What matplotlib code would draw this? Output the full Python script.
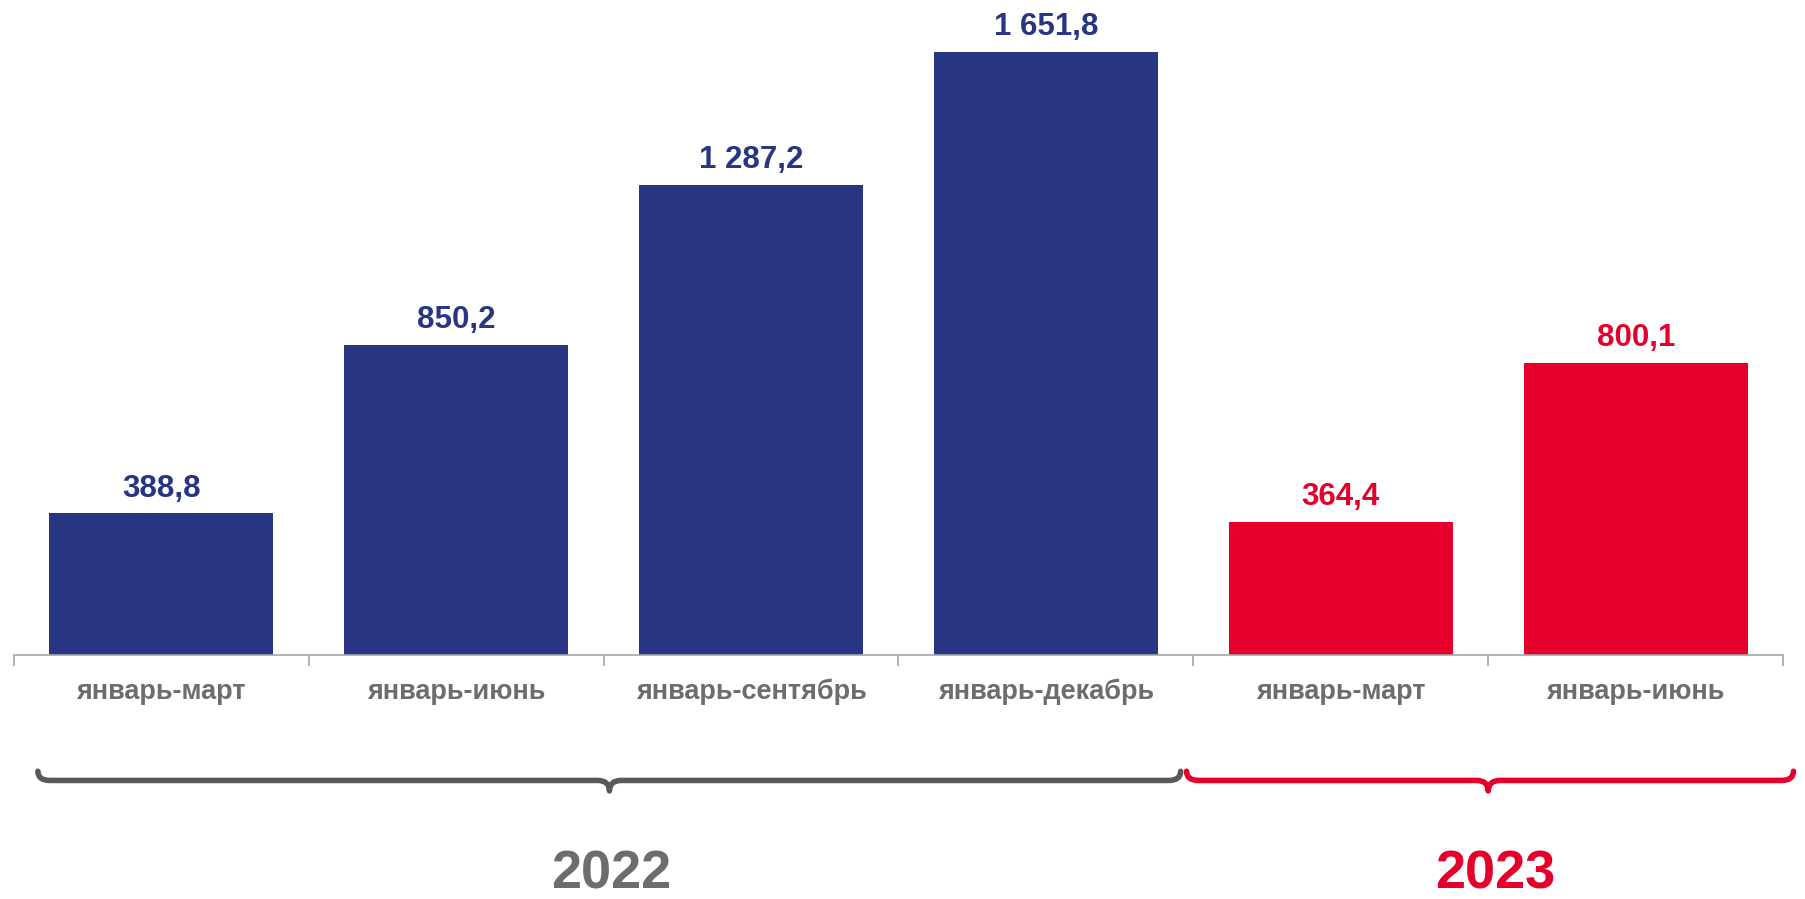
import matplotlib
matplotlib.use('Agg')
import matplotlib.pyplot as plt
from matplotlib.path import Path
from matplotlib.patches import PathPatch
import matplotlib.transforms as mtransforms

# Daten
periods = ['январь-март', 'январь-июнь', 'январь-сентябрь', 'январь-декабрь',
           'январь-март', 'январь-июнь']
values = [388.8, 850.2, 1287.2, 1651.8, 364.4, 800.1]
value_labels = ['388,8', '850,2', '1 287,2', '1 651,8', '364,4', '800,1']
years = ['2022', '2023']
year_groups = [(0, 3), (4, 5)]

navy = '#283583'
red = '#E4002B'
grey_text = '#6D6D6D'
grey_brace = '#595959'
colors = [navy] * 4 + [red] * 2

plt.rcParams['font.family'] = ['Liberation Sans', 'DejaVu Sans']

fig = plt.figure(figsize=(18.05, 8.99), dpi=100)
ax = fig.add_axes([0.0076, 0.2711, 0.9803, 0.7289])

x = list(range(len(values)))
ax.bar(x, values, width=0.76, color=colors)
ax.set_xlim(-0.5, len(values) - 0.5)
ax.set_ylim(0, 1793)

for xi, v, lab, c in zip(x, values, value_labels, colors):
    ax.annotate(lab, (xi, v), xytext=(0, 12), textcoords='offset points',
                ha='center', va='baseline', fontsize=22.5, fontweight='bold', color=c)

# Achsen
for s in ['top', 'right', 'left']:
    ax.spines[s].set_visible(False)
ax.spines['bottom'].set_color('#A6A6A6')
ax.spines['bottom'].set_linewidth(1.2)
ax.set_yticks([])
ax.set_xticks([i - 0.5 for i in range(len(values) + 1)])
ax.set_xticklabels([])
ax.tick_params(axis='x', which='major', length=8, color='#A6A6A6', width=1.2)
ax.set_xticks(x, periods, minor=True)
ax.tick_params(axis='x', which='minor', length=0, pad=17, labelsize=19.5,
               labelcolor=grey_text)
for t in ax.get_xticklabels(minor=True):
    t.set_fontweight('bold')

# Geschweifte Klammern
trans = mtransforms.blended_transform_factory(ax.transData, ax.transAxes)


def klammer(x0, x1, xm, color):
    y_end, y_line, y_tip = -0.177, -0.191, -0.207
    rx = 0.04
    verts = [(x0, y_end), (x0, y_line), (x0 + rx, y_line),
             (xm - rx, y_line), (xm, y_line), (xm, y_tip),
             (xm, y_line), (xm + rx, y_line),
             (x1 - rx, y_line), (x1, y_line), (x1, y_end)]
    codes = [Path.MOVETO, Path.CURVE3, Path.CURVE3,
             Path.LINETO, Path.CURVE3, Path.CURVE3,
             Path.CURVE3, Path.CURVE3,
             Path.LINETO, Path.CURVE3, Path.CURVE3]
    patch = PathPatch(Path(verts, codes), transform=trans, fill=False,
                      edgecolor=color, linewidth=4, capstyle='round',
                      joinstyle='round', clip_on=False)
    ax.add_patch(patch)


klammer(-0.418, 3.457, 1.52, grey_brace)
klammer(3.477, 5.535, 4.5, red)

for (a, b), yr, c in zip(year_groups, years, [grey_text, red]):
    ax.text((a + b) / 2 + 0.025, -0.334, yr, transform=trans, ha='center', va='center',
            fontsize=39, fontweight='bold', color=c)

fig.savefig('out.png', dpi=100)
